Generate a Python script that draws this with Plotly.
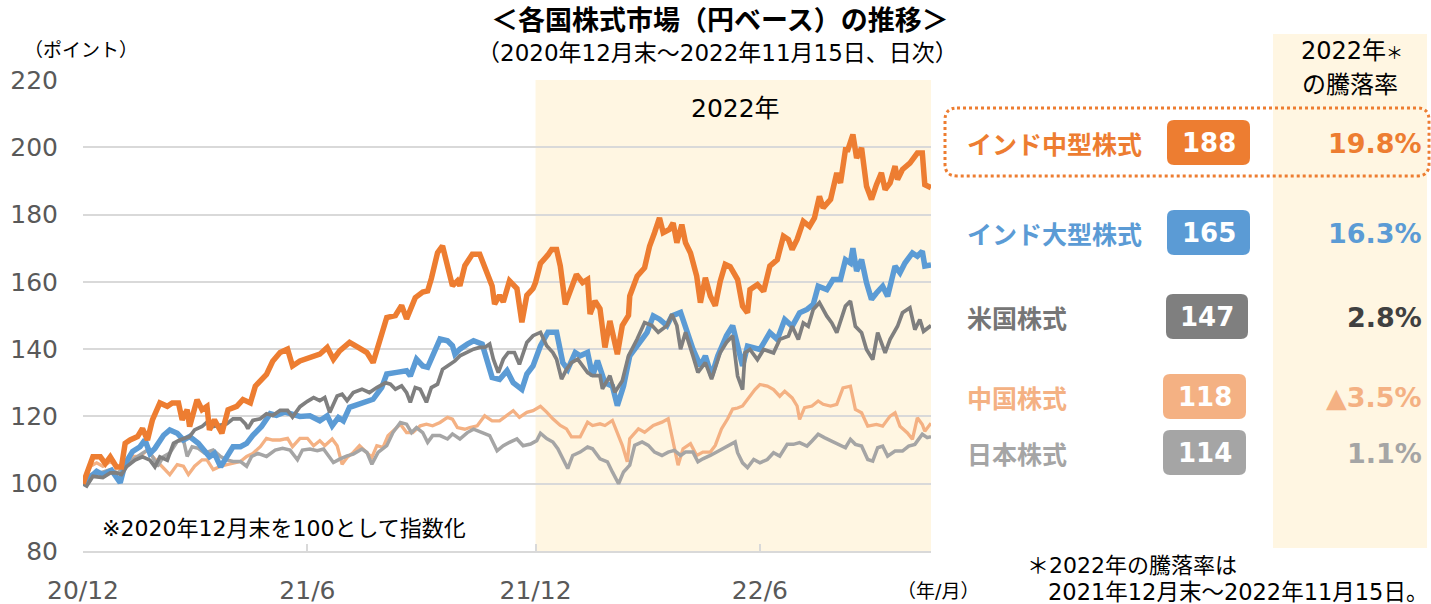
import pandas as pd
import plotly.graph_objects as go

# ---------------- data ----------------
BASE_DATE = "2020-12-31"
END_DATE = "2022-11-15"

mid_days = [0, 8, 14, 18, 22, 27, 31, 34, 38, 44, 48, 52, 56, 62, 68, 72, 77, 80, 84, 86, 92, 96, 100, 102, 106, 112, 117, 124, 129, 135, 139, 144, 148, 153, 159, 165, 169, 175, 183, 191, 197, 202, 207, 215, 222, 229, 234, 240, 245, 252, 257, 261, 268, 274, 278, 281, 286, 290, 294, 298, 302, 304, 308, 314, 320, 326, 330, 332, 336, 339, 344, 350, 354, 358, 363, 365, 369, 375, 378, 382, 385, 389, 393, 398, 403, 407, 409, 413, 417, 421, 425, 431, 435, 440, 441, 447, 453, 457, 461, 465, 468, 473, 476, 479, 483, 486, 490, 495, 498, 502, 506, 510, 514, 518, 522, 528, 532, 536, 538, 544, 549, 554, 560, 565, 569, 572, 576, 581, 586, 590, 594, 597, 603, 608, 611, 615, 617, 621, 624, 628, 632, 636, 640, 644, 647, 651, 655, 657, 661, 667, 673, 677, 679, 684]
mid_vals = [100, 108, 108, 106, 108, 105, 105, 112, 113, 114, 116.4, 113, 119, 124, 123, 124, 124, 119, 122, 117, 125, 122, 123, 116, 119, 115, 122, 123, 125, 124, 129, 131, 132.5, 136.4, 139, 140, 135, 136.5, 137.5, 138.5, 140.5, 137, 139.5, 142, 140.5, 139, 136, 143, 149.4, 150, 153, 149, 155.3, 157, 157.3, 161, 168.7, 170.7, 164, 158.8, 160.3, 158.8, 164.8, 168.2, 168.2, 162.8, 158.8, 153.4, 156, 154, 160.3, 158, 148, 156, 158, 159.8, 165.5, 168, 169.6, 169.6, 164.7, 153.3, 157, 162.2, 159.8, 160.7, 150.4, 154.3, 152, 140.5, 148.4, 138.5, 147, 150, 155.8, 161.7, 164.2, 170.6, 174.6, 179, 174.6, 175.6, 177.5, 171.6, 177, 171.6, 168.6, 161.7, 153.8, 161.2, 155.8, 152.9, 160.2, 165.2, 164.5, 160.7, 152.8, 150.8, 157.7, 159.2, 157.2, 164.7, 166.6, 173.6, 172.6, 169.6, 172.6, 178, 176.5, 179, 185.4, 182, 184.5, 192.4, 189.4, 199.3, 199.3, 203.8, 196.8, 199.8, 188.4, 184.5, 188.9, 192.4, 187.4, 189.4, 194.4, 190.4, 193.4, 195.3, 198.3, 198.3, 188.9, 188]

large_days = [0, 6, 11, 16, 23, 30, 34, 40, 46, 50, 54, 58, 65, 70, 76, 81, 86, 93, 98, 102, 106, 111, 116, 121, 127, 132, 137, 144, 151, 156, 163, 169, 175, 183, 191, 197, 201, 206, 210, 215, 222, 229, 234, 241, 245, 253, 261, 264, 269, 274, 278, 282, 288, 294, 298, 300, 304, 310, 315, 322, 327, 330, 336, 342, 347, 354, 358, 363, 369, 375, 382, 387, 391, 397, 401, 407, 411, 415, 421, 427, 431, 436, 441, 447, 455, 460, 465, 471, 475, 482, 487, 492, 498, 502, 507, 512, 519, 524, 528, 532, 536, 546, 554, 560, 566, 572, 578, 584, 589, 593, 600, 605, 611, 615, 619, 621, 624, 628, 632, 636, 640, 645, 649, 655, 659, 663, 669, 673, 677, 679, 684]
large_vals = [100, 102, 103.7, 102.7, 104, 100.3, 106, 109.6, 111, 113, 109, 110.5, 114.4, 116, 115, 113, 114, 112, 110, 108, 109, 105, 108, 111, 111, 112, 114.4, 117, 120.8, 120.3, 121.3, 120.8, 120, 120.2, 118.7, 120.2, 117.2, 119.7, 118.7, 122.7, 123.7, 124.7, 125.1, 128.6, 132.6, 133.1, 133.6, 132, 137, 135, 134.6, 138, 143, 142.5, 141, 138.5, 140, 141.5, 142.5, 141.5, 136, 131.6, 131, 133.6, 130, 128, 132.6, 135, 141, 145, 145, 136, 134, 139, 138, 139, 132, 136.6, 130, 129, 123.2, 129, 138, 141, 145, 149.9, 148.9, 147, 149.9, 150.9, 145, 140, 135, 138, 132.1, 138, 144, 147, 141, 135, 140.9, 139.9, 144.9, 142.9, 148.8, 146.8, 150.8, 151.8, 153.3, 158.7, 157.7, 160.7, 160.7, 166.6, 165.6, 170, 163.2, 166.6, 159.7, 154.8, 156.7, 158.7, 155.7, 164.7, 162.7, 165.6, 168.6, 167.6, 169.1, 164.7, 165]

us_days = [0, 3, 8, 16, 22, 27, 31, 35, 42, 48, 54, 58, 62, 68, 73, 78, 86, 90, 96, 100, 105, 111, 116, 121, 127, 131, 133, 137, 143, 148, 153, 159, 165, 169, 175, 181, 186, 191, 195, 199, 205, 209, 213, 218, 225, 231, 237, 244, 248, 252, 257, 261, 264, 268, 272, 277, 281, 286, 290, 294, 300, 304, 310, 315, 320, 324, 328, 331, 335, 339, 343, 348, 352, 358, 363, 369, 374, 379, 382, 386, 390, 394, 399, 403, 407, 411, 417, 419, 425, 429, 435, 440, 447, 453, 459, 464, 471, 475, 479, 482, 486, 492, 496, 502, 507, 514, 519, 524, 528, 532, 534, 538, 544, 549, 557, 562, 569, 572, 577, 581, 585, 589, 594, 600, 604, 608, 615, 619, 623, 628, 632, 637, 641, 647, 651, 657, 661, 667, 671, 675, 678, 684]
us_vals = [100, 99.3, 102.2, 101.8, 103.2, 103.2, 102.7, 105, 107, 108, 107, 105, 108, 107, 112, 113, 114, 116, 117, 118.3, 117, 117.4, 117.8, 119.3, 119.3, 117.8, 116.4, 118.8, 119.3, 120.8, 120.3, 121.8, 121.8, 119.8, 122.9, 124.5, 125.6, 124.7, 125.6, 121.2, 126.1, 126.6, 124.7, 127.1, 128.1, 127.1, 128.6, 130, 129.6, 128.1, 129.1, 127.1, 124.2, 128.6, 128.1, 124.2, 128.6, 129.6, 134, 135, 136.5, 138, 139, 140, 140.5, 140.5, 141.5, 137, 133, 137, 139, 139, 135.5, 142, 144, 145, 141, 139, 137, 131.1, 134, 136, 137, 135, 133, 132.1, 132.1, 128.2, 132.1, 127.2, 130.6, 138, 143, 147.9, 147, 145, 147, 150.4, 147, 140, 145, 138, 133.1, 136, 131.1, 139, 142, 144, 132, 128, 138.9, 139.9, 136.9, 139.9, 138.9, 142.9, 143.9, 146.8, 142.9, 147.8, 146.8, 151.8, 153.8, 149.8, 147.8, 144.9, 152.8, 154.3, 146.8, 144.9, 139.9, 136.9, 144.9, 138.9, 142.9, 146.8, 150.8, 152.3, 145.8, 148.8, 145.3, 147]

china_days = [0, 6, 11, 16, 22, 30, 35, 40, 46, 52, 56, 61, 66, 70, 76, 81, 85, 90, 96, 100, 105, 111, 116, 121, 127, 132, 137, 143, 148, 153, 159, 165, 169, 175, 181, 186, 191, 195, 201, 205, 209, 213, 218, 223, 229, 233, 237, 242, 246, 252, 256, 261, 266, 272, 277, 282, 288, 294, 298, 302, 308, 312, 318, 324, 330, 336, 342, 347, 352, 358, 363, 369, 374, 379, 385, 390, 394, 401, 407, 411, 417, 421, 427, 431, 435, 439, 441, 448, 453, 460, 467, 472, 476, 480, 484, 490, 495, 500, 506, 510, 515, 520, 524, 528, 532, 536, 542, 546, 552, 557, 562, 566, 572, 576, 578, 582, 588, 593, 597, 603, 608, 613, 619, 623, 628, 633, 640, 645, 651, 655, 659, 665, 669, 673, 677, 679, 684]
china_vals = [100, 105.2, 106.2, 105.2, 106.6, 104.7, 105.2, 108.1, 108.1, 110, 108.1, 106.2, 104.2, 102.7, 105.7, 105.2, 102.7, 105.2, 107.1, 107.1, 104.2, 105.2, 105.7, 106.2, 106.6, 108.1, 109, 111, 113.5, 113, 113, 113.5, 111, 113.5, 113.5, 111.3, 112.8, 111.3, 113.3, 111.3, 105.8, 107.8, 109.3, 111.3, 109.3, 107.8, 111.3, 110.8, 114.3, 116.2, 117.7, 115.2, 115.2, 117.2, 117.7, 117.2, 118.2, 119.7, 119.2, 116.7, 116.2, 116.7, 117.2, 120.2, 118.7, 118.7, 120.2, 121.7, 119.7, 121.2, 121.7, 123, 121.3, 119.3, 117.3, 116.3, 113.9, 113.9, 118.3, 117.3, 117.8, 117.3, 118.8, 115.3, 111.4, 106.5, 113.4, 116.3, 115.3, 117.3, 118.3, 119.3, 112.4, 105.5, 110.4, 111.9, 108.4, 109.4, 109.4, 111.4, 116.3, 119.3, 122.2, 122.5, 123.1, 125.1, 128, 129.5, 129, 128, 126, 127.5, 125.5, 123.1, 119.1, 122.6, 123.1, 124.6, 123.6, 123.1, 123.6, 128.5, 129, 122.1, 121.1, 117.1, 117.6, 117.1, 120.1, 121.1, 117.1, 115.1, 113.2, 119.6, 117.6, 115.6, 118]

japan_days = [0, 6, 14, 22, 28, 34, 40, 48, 52, 56, 60, 65, 70, 76, 81, 84, 88, 93, 98, 105, 111, 116, 121, 127, 132, 136, 141, 148, 155, 161, 167, 173, 177, 183, 189, 194, 197, 202, 207, 213, 218, 225, 229, 233, 238, 245, 250, 256, 261, 265, 269, 274, 278, 282, 288, 294, 298, 304, 310, 315, 322, 328, 334, 339, 344, 350, 355, 361, 366, 369, 374, 379, 383, 387, 391, 395, 401, 407, 411, 417, 423, 427, 432, 436, 441, 445, 451, 456, 461, 467, 472, 477, 482, 486, 492, 496, 500, 506, 511, 516, 522, 526, 528, 532, 536, 541, 546, 552, 557, 562, 568, 573, 578, 584, 588, 593, 598, 604, 609, 615, 619, 623, 628, 633, 637, 641, 645, 649, 655, 661, 666, 671, 677, 681, 684]
japan_vals = [100, 102.7, 103.2, 104.2, 103.2, 105.2, 107.1, 109.1, 110, 108.1, 105.2, 108.1, 109.1, 112.5, 113, 108.1, 111, 110.5, 109.1, 110, 108.1, 107.1, 106.6, 106.6, 105.2, 108.1, 109, 108.1, 110, 110.5, 110, 107.1, 110, 110.3, 109.8, 110.3, 108.8, 106.3, 107.3, 108.3, 108.8, 110.3, 109.3, 105.8, 109.3, 111.3, 115.2, 118.2, 117.7, 115.2, 116.7, 115.2, 112.3, 114.3, 114.3, 113.3, 114.8, 113.3, 115.2, 116.2, 115.2, 114.3, 109.8, 111.3, 112.3, 113.3, 111.3, 111.8, 112.8, 115, 113.4, 112.4, 110.4, 107.4, 104.5, 108.4, 109.4, 110.9, 110.4, 107.4, 106.5, 103.5, 100, 103.5, 105.5, 111.4, 112.4, 111.4, 109.4, 108.4, 109.4, 109.9, 108.4, 109.4, 109.4, 106.5, 107.4, 108.4, 109.4, 110.4, 111.4, 112.4, 109.2, 106.2, 104.8, 107.2, 106.2, 107.2, 109.2, 108.2, 111.7, 111.7, 112.2, 111.2, 112.7, 114.7, 113.7, 112.7, 111.7, 110.7, 113.2, 111.7, 111.2, 107.2, 106.7, 110.7, 111.2, 108.2, 109.7, 109.7, 111.2, 111.7, 114.7, 113.7, 114]

series_names = ["インド中型株式", "インド大型株式", "米国株式", "中国株式", "日本株式"]
latest_values = ["188", "165", "147", "118", "114"]
change_2022 = ["19.8%", "16.3%", "2.8%", "▲3.5%", "1.1%"]

x_tick_dates = ["2020-12-31", "2021-06-30", "2021-12-31", "2022-06-30", "2022-11-15"]
x_tick_labels = ["20/12", "21/6", "21/12", "22/6", ""]
y_ticks = [80, 100, 120, 140, 160, 180, 200, 220]

# ---------------- styling ----------------
C_MID = "#ED7D31"
C_LARGE = "#5B9BD5"
C_US = "#7F7F7F"
C_CHINA = "#F4B183"
C_JAPAN = "#A5A5A5"
SHADE = "#FFF6E2"
JP = "Noto Sans CJK JP"
MIX = "DejaVu Sans, Noto Sans CJK JP"
NUM = "DejaVu Sans"

W, H = 1431, 604
L, R, T, B = 83, 931, 80, 551


def to_dates(days):
    return pd.Timestamp(BASE_DATE) + pd.to_timedelta(days, unit="D")


def px(xp):
    return (xp - L) / (R - L)


def py(yp):
    return (B - yp) / (B - T)


def rrect(x0, y0, x1, y1, r):
    X0, X1 = px(x0), px(x1)
    Y0, Y1 = py(y0), py(y1)
    rx = r / (R - L)
    ry = r / (B - T)
    return (f"M {X0+rx},{Y0} L {X1-rx},{Y0} Q {X1},{Y0} {X1},{Y0-ry} "
            f"L {X1},{Y1+ry} Q {X1},{Y1} {X1-rx},{Y1} L {X0+rx},{Y1} "
            f"Q {X0},{Y1} {X0},{Y1+ry} L {X0},{Y0-ry} Q {X0},{Y0} {X0+rx},{Y0} Z")


fig = go.Figure()

traces = [
    (china_days, china_vals, C_CHINA, 3.3),
    (japan_days, japan_vals, C_JAPAN, 3.5),
    (large_days, large_vals, C_LARGE, 5.5),
    (us_days, us_vals, C_US, 3.7),
    (mid_days, mid_vals, C_MID, 5.5),
]
for d, v, c, w in traces:
    fig.add_trace(go.Scatter(x=to_dates(d), y=v, mode="lines",
                             line=dict(color=c, width=w), hoverinfo="skip",
                             showlegend=False))

shapes = []
shapes.append(dict(type="rect", xref="x", yref="paper", x0="2021-12-31", x1=END_DATE,
                   y0=0, y1=1, fillcolor=SHADE, line=dict(width=0), layer="below"))
shapes.append(dict(type="rect", xref="paper", yref="paper", x0=px(1273), x1=px(1427),
                   y0=py(548), y1=py(34), fillcolor=SHADE, line=dict(width=0), layer="below"))
shapes.append(dict(type="path", xref="paper", yref="paper", path=rrect(945, 108, 1429, 176, 12),
                   line=dict(color=C_MID, width=3, dash="dot"), fillcolor="rgba(0,0,0,0)"))

row_y = [143, 233, 317, 397, 453]
badge_x = [(1167, 1250), (1167, 1250), (1166, 1248), (1163, 1246), (1163, 1246)]
name_colors = [C_MID, C_LARGE, "#767676", C_CHINA, C_JAPAN]
badge_colors = [C_MID, C_LARGE, C_US, C_CHINA, C_JAPAN]
pct_colors = [C_MID, C_LARGE, "#404040", C_CHINA, C_JAPAN]

annotations = []
for i in range(5):
    yc = row_y[i]
    bx0, bx1 = badge_x[i]
    shapes.append(dict(type="path", xref="paper", yref="paper",
                       path=rrect(bx0, yc - 23, bx1, yc + 22, 7),
                       fillcolor=badge_colors[i], line=dict(width=0)))
    annotations.append(dict(x=px(965), y=py(yc), xref="paper", yref="paper",
                            text=f"<b>{series_names[i]}</b>", showarrow=False,
                            xanchor="left", yanchor="middle",
                            font=dict(family=JP, size=25, color=name_colors[i])))
    annotations.append(dict(x=px((bx0 + bx1) / 2), y=py(yc), xref="paper", yref="paper",
                            text=f"<b>{latest_values[i]}</b>", showarrow=False,
                            xanchor="center", yanchor="middle",
                            font=dict(family=NUM, size=26, color="white")))
    annotations.append(dict(x=px(1424), y=py(yc), xref="paper", yref="paper",
                            text=f"<b>{change_2022[i]}</b>", showarrow=False,
                            xanchor="right", yanchor="middle",
                            font=dict(family=NUM, size=27, color=pct_colors[i])))


def txt(x, y, t, size, anchor="center", color="#000000", family=MIX):
    annotations.append(dict(x=px(x), y=py(y), xref="paper", yref="paper", text=t,
                            showarrow=False, xanchor=anchor, yanchor="middle",
                            font=dict(family=family, size=size, color=color)))


txt(720, 18, "<b>＜各国株式市場（円ベース）の推移＞</b>", 27, family=JP)
txt(717, 53, "（2020年12月末～2022年11月15日、日次）", 23)
txt(22, 48, "（ポイント）", 19, anchor="left", family=JP)
txt(1352, 51, "2022年<span style='font-size:17px'>＊</span>", 24)
txt(1350, 85, "の騰落率", 24)
txt(735, 108, "2022年", 25)
txt(100, 528, "※2020年12月末を100として指数化", 22, anchor="left")
txt(895, 591, "（年/月）", 19, anchor="left")
txt(1025, 565, "＊2022年の騰落率は", 22, anchor="left")
txt(1046, 592, "2021年12月末～2022年11月15日。", 22.5, anchor="left")

fig.update_layout(
    width=W, height=H,
    margin=dict(l=L, r=W - R, t=T, b=H - B, autoexpand=False),
    plot_bgcolor="rgba(0,0,0,0)", paper_bgcolor="white",
    shapes=shapes, annotations=annotations,
    showlegend=False,
)
fig.update_xaxes(
    type="date", range=[BASE_DATE, END_DATE], automargin=False,
    tickvals=x_tick_dates, ticktext=x_tick_labels,
    ticks="inside", ticklen=7, tickcolor="#D9D9D9", tickwidth=2,
    showline=True, linecolor="#D9D9D9", linewidth=2,
    showgrid=False, zeroline=False,
    tickfont=dict(family=NUM, size=25, color="#595959"),
    ticklabelstandoff=16,
)
fig.update_yaxes(
    range=[80, 220], tickvals=y_ticks, automargin=False,
    showgrid=True, gridcolor="#D9D9D9", gridwidth=2,
    showline=False, zeroline=False,
    ticks="", tickfont=dict(family=NUM, size=25, color="#595959"),
    ticklabelstandoff=24,
)

PAGE_JS = (
    "var s=document.createElement('style');"
    f"s.innerHTML='html,body{{margin:0;padding:0;overflow:hidden;width:{W}px;height:{H}px;}}';"
    "document.head.appendChild(s);"
)

fig.write_html("out.html", config={"displayModeBar": False}, post_script=PAGE_JS)
